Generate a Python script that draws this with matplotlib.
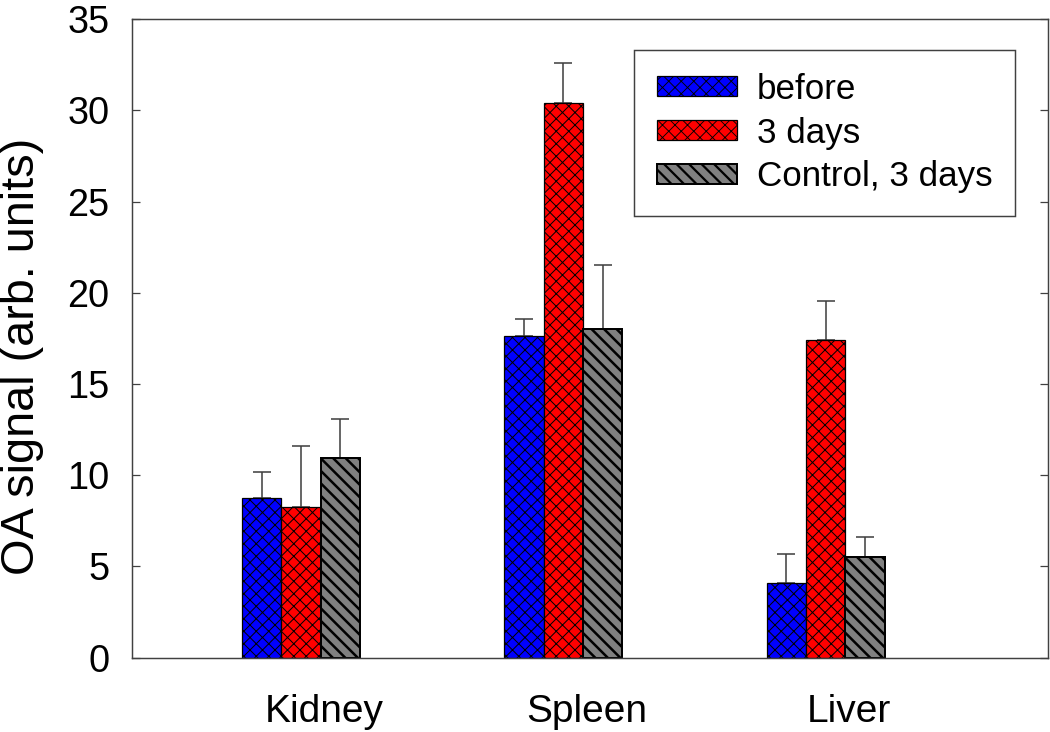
import matplotlib
matplotlib.use("Agg")
import matplotlib.pyplot as plt
import numpy as np

categories = ["Kidney", "Spleen", "Liver"]
series_names = ["before", "3 days", "Control, 3 days"]
before = [8.77, 17.65, 4.11]
before_err = [1.42, 0.89, 1.59]
days3 = [8.24, 30.41, 17.40]
days3_err = [3.36, 2.19, 2.14]
control = [10.93, 18.00, 5.53]
control_err = [2.15, 3.50, 1.07]
yticks = [0, 5, 10, 15, 20, 25, 30, 35]

plt.rcParams['font.family'] = ['Liberation Sans', 'DejaVu Sans']
DPI = 75
fig = plt.figure(figsize=(1050 / DPI, 732 / DPI), dpi=DPI)
ax = fig.add_axes([0.1254, 0.1015, 0.8727, 0.8725])

x = np.arange(len(categories))
w = 0.15
styles = [
    dict(color="#0000FF", hatch="xx", hlw=0.95, elw=1.2),
    dict(color="#FF0000", hatch="xx", hlw=0.95, elw=1.2),
    dict(color="#808080", hatch="\\\\", hlw=2.4, elw=1.9),
]
data = [(before, before_err), (days3, days3_err), (control, control_err)]
offsets = [-w, 0, w]
errcol = "#404040"
for (vals, errs), st, off, name in zip(data, styles, offsets, series_names):
    with plt.rc_context({'hatch.linewidth': st['hlw']}):
        bars = ax.bar(x + off, vals, width=w, color=st['color'], edgecolor='black',
                      linewidth=st['elw'], hatch=st['hatch'], label=name, zorder=2)
        for b in bars:
            try:
                b.set_hatch_linewidth(st['hlw'])
            except Exception:
                pass
    ax.errorbar(x + off, vals, yerr=[np.zeros(len(vals)), errs], fmt='none',
                ecolor=errcol, elinewidth=1.5, capsize=8.9, capthick=1.5, zorder=1)

ax.set_xlim(-0.6456, 2.848)
ax.set_ylim(0, 35)
ax.set_yticks(yticks)
ax.set_xticks(x + 0.09)
ax.set_xticklabels(categories)
ax.tick_params(axis='y', direction='in', length=7.5, width=1.2, color='#404040',
               labelsize=36.4, pad=21.5, right=True, left=True)
ax.tick_params(axis='x', length=0, labelsize=37.3, pad=35)
for sp in ax.spines.values():
    sp.set_color('#404040')
    sp.set_linewidth(1.4)

ax.set_ylabel("OA signal (arb. units)", fontsize=45)
ax.yaxis.set_label_coords(-0.0955, 0.472)

leg = ax.legend(loc='upper right', bbox_to_anchor=(0.964, 0.9515), borderaxespad=0,
                fontsize=33.6, frameon=True, fancybox=False, framealpha=1,
                edgecolor='#404040', handlelength=2.29, handleheight=0.5,
                handletextpad=0.57, labelspacing=0.31, borderpad=0.65)
leg.get_frame().set_linewidth(1.4)
for h, st in zip(leg.legend_handles, styles):
    try:
        h.set_hatch_linewidth(st['hlw'] * 0.9)
    except Exception:
        pass

fig.savefig("out.png", dpi=DPI)
